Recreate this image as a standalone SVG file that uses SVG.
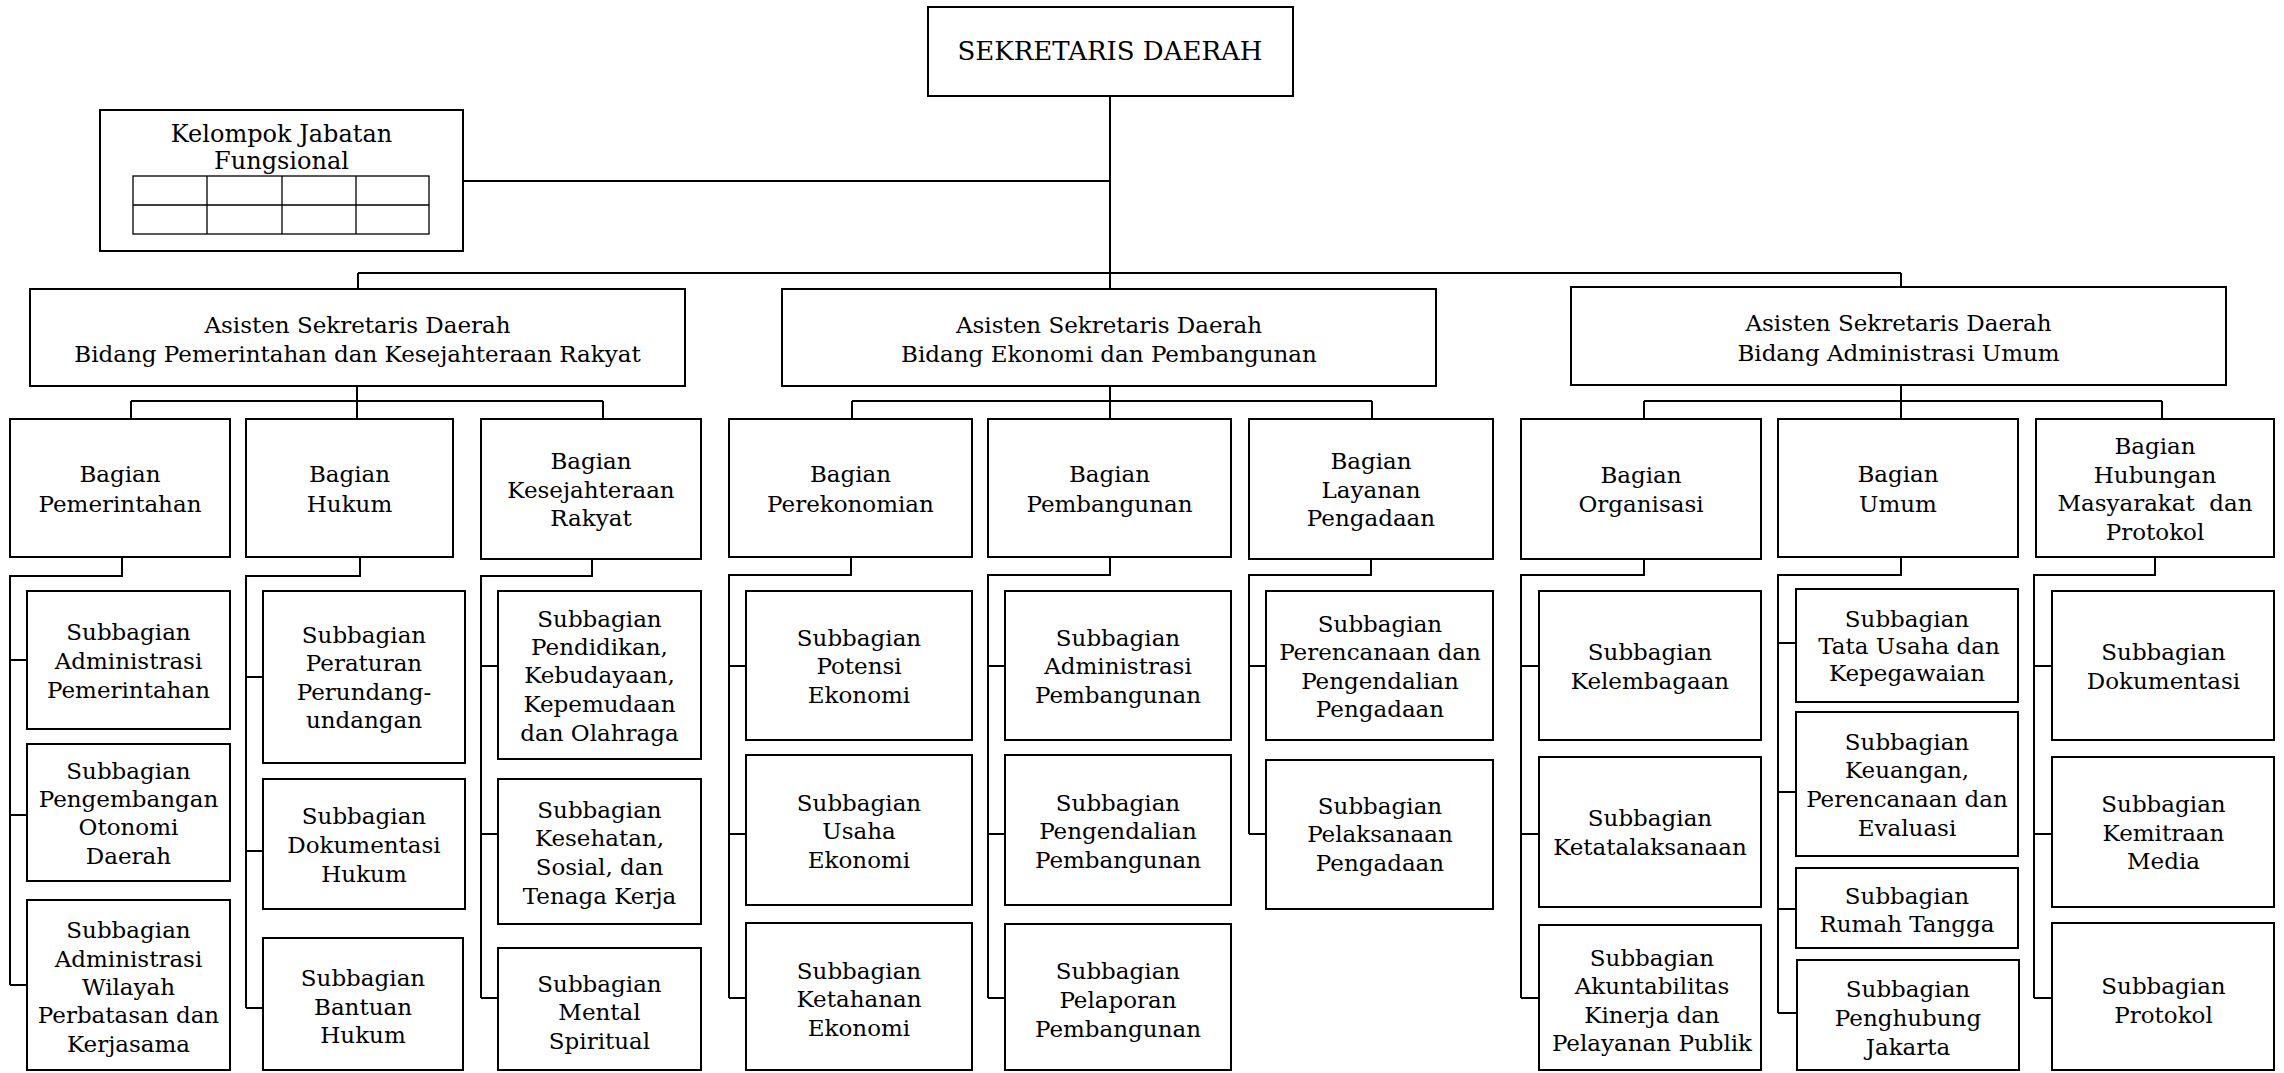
<svg xmlns="http://www.w3.org/2000/svg" width="2284" height="1073" viewBox="0 0 2284 1073">
<style>
.box{fill:#fff;stroke:#000;stroke-width:2}
.grid{fill:none;stroke:#000;stroke-width:1.3}
.ln{fill:none;stroke:#000;stroke-width:2}
text{font-family:"DejaVu Serif",serif;font-size:23px;text-anchor:middle;fill:#000}
.pre{white-space:pre}
.big{font-size:26px}
.mid{font-size:24px}
</style>
<rect width="2284" height="1073" fill="#fff"/>
<g id="connectors">
<path class="ln" d="M1110 96V289M463 181H1110M358 273H1901M358 273V289M1901 273V287"/>
<path class="ln" d="M357 386V401M131 401H603M131 401V419M357 401V419M603 401V419"/>
<path class="ln" d="M1110 386V401M852 401H1372M852 401V419M1110 401V419M1372 401V419"/>
<path class="ln" d="M1901 385V401M1644 401H2162M1644 401V419M1901 401V419M2162 401V419"/>
<path class="ln" d="M122 557V576H10V985M10 660H27M10 815H27M10 985H27"/>
<path class="ln" d="M360 557V576H246V1008M246 677H263M246 851H263M246 1008H263"/>
<path class="ln" d="M592 559V576H481V998M481 666H498M481 834H498M481 998H498"/>
<path class="ln" d="M851 557V575H729V998M729 666H746M729 834H746M729 998H746"/>
<path class="ln" d="M1110 557V575H988V998M988 666H1005M988 834H1005M988 998H1005"/>
<path class="ln" d="M1371 559V575H1249V834M1249 666H1266M1249 834H1266"/>
<path class="ln" d="M1644 559V575H1521V998M1521 666H1539M1521 834H1539M1521 998H1539"/>
<path class="ln" d="M1901 557V575H1778V1013M1778 643H1796M1778 792H1796M1778 909H1796M1778 1013H1796"/>
<path class="ln" d="M2155 557V575H2034V998M2034 666H2052M2034 834H2052M2034 998H2052"/>
</g>
<g id="sekda"><rect class="box" x="928" y="7" width="365" height="89"/><text class="big" x="1110" y="60">SEKRETARIS DAERAH</text></g>
<g id="kjf"><rect class="box" x="100" y="110" width="363" height="141"/><text class="mid" x="281.5" y="142">Kelompok Jabatan</text><text class="mid" x="281.5" y="169">Fungsional</text>
<rect class="grid" x="133" y="176" width="296" height="58"/><path class="grid" d="M207 176V234M282 176V234M356 176V234M133 205H429"/></g>
<g id="asisten1"><rect class="box" x="30" y="289" width="655" height="97"/><text x="357.5" y="333">Asisten Sekretaris Daerah</text><text x="357.5" y="362">Bidang Pemerintahan dan Kesejahteraan Rakyat</text></g>
<g id="asisten2"><rect class="box" x="782" y="289" width="654" height="97"/><text x="1109" y="333">Asisten Sekretaris Daerah</text><text x="1109" y="362">Bidang Ekonomi dan Pembangunan</text></g>
<g id="asisten3"><rect class="box" x="1571" y="287" width="655" height="98"/><text x="1898.5" y="331">Asisten Sekretaris Daerah</text><text x="1898.5" y="361">Bidang Administrasi Umum</text></g>
<g id="bag-pemerintahan"><rect class="box" x="10" y="419" width="220" height="138"/><text x="120" y="482">Bagian</text><text x="120" y="512">Pemerintahan</text></g>
<g id="bag-hukum"><rect class="box" x="246" y="419" width="207" height="138"/><text x="349.5" y="482">Bagian</text><text x="349.5" y="512">Hukum</text></g>
<g id="bag-kesra"><rect class="box" x="481" y="419" width="220" height="140"/><text x="591" y="469">Bagian</text><text x="591" y="498">Kesejahteraan</text><text x="591" y="526">Rakyat</text></g>
<g id="bag-perekonomian"><rect class="box" x="729" y="419" width="243" height="138"/><text x="850.5" y="482">Bagian</text><text x="850.5" y="512">Perekonomian</text></g>
<g id="bag-pembangunan"><rect class="box" x="988" y="419" width="243" height="138"/><text x="1109.5" y="482">Bagian</text><text x="1109.5" y="512">Pembangunan</text></g>
<g id="bag-layanan"><rect class="box" x="1249" y="419" width="244" height="140"/><text x="1371" y="469">Bagian</text><text x="1371" y="498">Layanan</text><text x="1371" y="526">Pengadaan</text></g>
<g id="bag-organisasi"><rect class="box" x="1521" y="419" width="240" height="140"/><text x="1641" y="483">Bagian</text><text x="1641" y="512">Organisasi</text></g>
<g id="bag-umum"><rect class="box" x="1778" y="419" width="240" height="138"/><text x="1898" y="482">Bagian</text><text x="1898" y="512">Umum</text></g>
<g id="bag-humas"><rect class="box" x="2036" y="419" width="238" height="138"/><text x="2155" y="454">Bagian</text><text x="2155" y="483">Hubungan</text><text class="pre" x="2155" y="511" xml:space="preserve">Masyarakat  dan</text><text x="2155" y="540">Protokol</text></g>
<g id="sub-a1"><rect class="box" x="27" y="591" width="203" height="138"/><text x="128.5" y="640">Subbagian</text><text x="128.5" y="669">Administrasi</text><text x="128.5" y="698">Pemerintahan</text></g>
<g id="sub-a2"><rect class="box" x="27" y="744" width="203" height="137"/><text x="128.5" y="779">Subbagian</text><text x="128.5" y="807">Pengembangan</text><text x="128.5" y="835">Otonomi</text><text x="128.5" y="864">Daerah</text></g>
<g id="sub-a3"><rect class="box" x="27" y="900" width="203" height="170"/><text x="128.5" y="938">Subbagian</text><text x="128.5" y="967">Administrasi</text><text x="128.5" y="995">Wilayah</text><text x="128.5" y="1023">Perbatasan dan</text><text x="128.5" y="1052">Kerjasama</text></g>
<g id="sub-b1"><rect class="box" x="263" y="591" width="202" height="172"/><text x="364" y="643">Subbagian</text><text x="364" y="671">Peraturan</text><text x="364" y="700">Perundang-</text><text x="364" y="728">undangan</text></g>
<g id="sub-b2"><rect class="box" x="263" y="779" width="202" height="130"/><text x="364" y="824">Subbagian</text><text x="364" y="853">Dokumentasi</text><text x="364" y="882">Hukum</text></g>
<g id="sub-b3"><rect class="box" x="263" y="938" width="200" height="132"/><text x="363" y="986">Subbagian</text><text x="363" y="1015">Bantuan</text><text x="363" y="1043">Hukum</text></g>
<g id="sub-c1"><rect class="box" x="498" y="591" width="203" height="168"/><text x="599.5" y="627">Subbagian</text><text x="599.5" y="655">Pendidikan,</text><text x="599.5" y="683">Kebudayaan,</text><text x="599.5" y="712">Kepemudaan</text><text x="599.5" y="741">dan Olahraga</text></g>
<g id="sub-c2"><rect class="box" x="498" y="779" width="203" height="145"/><text x="599.5" y="818">Subbagian</text><text x="599.5" y="846">Kesehatan,</text><text x="599.5" y="875">Sosial, dan</text><text x="599.5" y="904">Tenaga Kerja</text></g>
<g id="sub-c3"><rect class="box" x="498" y="948" width="203" height="122"/><text x="599.5" y="992">Subbagian</text><text x="599.5" y="1020">Mental</text><text x="599.5" y="1049">Spiritual</text></g>
<g id="sub-d1"><rect class="box" x="746" y="591" width="226" height="149"/><text x="859" y="646">Subbagian</text><text x="859" y="674">Potensi</text><text x="859" y="703">Ekonomi</text></g>
<g id="sub-d2"><rect class="box" x="746" y="755" width="226" height="150"/><text x="859" y="811">Subbagian</text><text x="859" y="839">Usaha</text><text x="859" y="868">Ekonomi</text></g>
<g id="sub-d3"><rect class="box" x="746" y="923" width="226" height="147"/><text x="859" y="979">Subbagian</text><text x="859" y="1007">Ketahanan</text><text x="859" y="1036">Ekonomi</text></g>
<g id="sub-e1"><rect class="box" x="1005" y="591" width="226" height="149"/><text x="1118" y="646">Subbagian</text><text x="1118" y="674">Administrasi</text><text x="1118" y="703">Pembangunan</text></g>
<g id="sub-e2"><rect class="box" x="1005" y="755" width="226" height="150"/><text x="1118" y="811">Subbagian</text><text x="1118" y="839">Pengendalian</text><text x="1118" y="868">Pembangunan</text></g>
<g id="sub-e3"><rect class="box" x="1005" y="924" width="226" height="146"/><text x="1118" y="979">Subbagian</text><text x="1118" y="1008">Pelaporan</text><text x="1118" y="1037">Pembangunan</text></g>
<g id="sub-f1"><rect class="box" x="1266" y="591" width="227" height="149"/><text x="1380" y="632">Subbagian</text><text x="1380" y="660">Perencanaan dan</text><text x="1380" y="689">Pengendalian</text><text x="1380" y="717">Pengadaan</text></g>
<g id="sub-f2"><rect class="box" x="1266" y="760" width="227" height="149"/><text x="1380" y="814">Subbagian</text><text x="1380" y="842">Pelaksanaan</text><text x="1380" y="871">Pengadaan</text></g>
<g id="sub-g1"><rect class="box" x="1539" y="591" width="222" height="149"/><text x="1650" y="660">Subbagian</text><text x="1650" y="689">Kelembagaan</text></g>
<g id="sub-g2"><rect class="box" x="1539" y="757" width="222" height="150"/><text x="1650" y="826">Subbagian</text><text x="1650" y="855">Ketatalaksanaan</text></g>
<g id="sub-g3"><rect class="box" x="1539" y="925" width="222" height="145"/><text x="1652" y="966">Subbagian</text><text x="1652" y="994">Akuntabilitas</text><text x="1652" y="1023">Kinerja dan</text><text x="1652" y="1051">Pelayanan Publik</text></g>
<g id="sub-h1"><rect class="box" x="1796" y="589" width="222" height="113"/><text x="1907" y="627">Subbagian</text><text x="1909" y="654">Tata Usaha dan</text><text x="1907" y="681">Kepegawaian</text></g>
<g id="sub-h2"><rect class="box" x="1796" y="712" width="222" height="144"/><text x="1907" y="750">Subbagian</text><text x="1907" y="778">Keuangan,</text><text x="1907" y="807">Perencanaan dan</text><text x="1907" y="836">Evaluasi</text></g>
<g id="sub-h3"><rect class="box" x="1796" y="868" width="222" height="80"/><text x="1907" y="904">Subbagian</text><text x="1907" y="932">Rumah Tangga</text></g>
<g id="sub-h4"><rect class="box" x="1797" y="960" width="222" height="110"/><text x="1908" y="997">Subbagian</text><text x="1908" y="1026">Penghubung</text><text x="1908" y="1055">Jakarta</text></g>
<g id="sub-i1"><rect class="box" x="2052" y="591" width="222" height="149"/><text x="2163.5" y="660">Subbagian</text><text x="2163.5" y="689">Dokumentasi</text></g>
<g id="sub-i2"><rect class="box" x="2052" y="757" width="222" height="150"/><text x="2163.5" y="812">Subbagian</text><text x="2163.5" y="841">Kemitraan</text><text x="2163.5" y="869">Media</text></g>
<g id="sub-i3"><rect class="box" x="2052" y="923" width="222" height="147"/><text x="2163.5" y="994">Subbagian</text><text x="2163.5" y="1023">Protokol</text></g>
</svg>
